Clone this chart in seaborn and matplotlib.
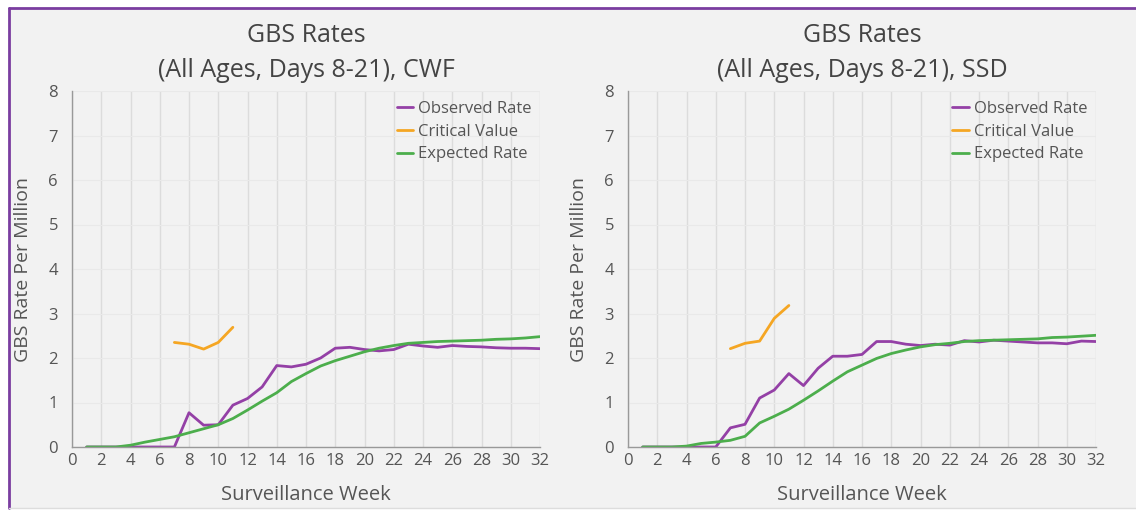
import matplotlib
matplotlib.use("Agg")
import matplotlib.pyplot as plt
import seaborn as sns
import pandas as pd
import numpy as np
from matplotlib.patches import Rectangle
from matplotlib.lines import Line2D

weeks = list(range(1, 33))

cwf_observed = [0, 0, 0, 0, 0, 0, 0, 0.77, 0.49, 0.50, 0.94, 1.09, 1.35, 1.83, 1.80, 1.86,
                2.00, 2.22, 2.24, 2.19, 2.16, 2.19, 2.31, 2.27, 2.24, 2.28, 2.26, 2.25,
                2.23, 2.22, 2.22, 2.21]
cwf_critical_weeks = [7, 8, 9, 10, 11]
cwf_critical = [2.35, 2.31, 2.20, 2.35, 2.69]
cwf_expected = [0, 0, 0, 0.04, 0.11, 0.17, 0.23, 0.32, 0.41, 0.50, 0.64, 0.83, 1.03, 1.22,
                1.47, 1.65, 1.82, 1.94, 2.04, 2.14, 2.22, 2.28, 2.33, 2.35, 2.37, 2.38,
                2.39, 2.40, 2.42, 2.43, 2.45, 2.48]

ssd_observed = [0, 0, 0, 0, 0, 0, 0.43, 0.51, 1.10, 1.28, 1.65, 1.38, 1.77, 2.04, 2.04, 2.08,
                2.37, 2.37, 2.31, 2.28, 2.31, 2.29, 2.39, 2.36, 2.40, 2.38, 2.36, 2.34,
                2.34, 2.32, 2.38, 2.37]
ssd_critical_weeks = [7, 8, 9, 10, 11]
ssd_critical = [2.21, 2.33, 2.38, 2.89, 3.18]
ssd_expected = [0, 0, 0, 0.02, 0.08, 0.11, 0.15, 0.24, 0.54, 0.69, 0.85, 1.05, 1.26, 1.48,
                1.69, 1.84, 1.99, 2.10, 2.18, 2.25, 2.30, 2.33, 2.37, 2.39, 2.40, 2.41,
                2.42, 2.43, 2.46, 2.47, 2.49, 2.51]

titles = ["GBS Rates\n(All Ages, Days 8-21), CWF", "GBS Rates\n(All Ages, Days 8-21), SSD"]
series_names = ["Observed Rate", "Critical Value", "Expected Rate"]
x_ticks = list(range(0, 33, 2))
y_ticks = list(range(0, 9))

def make_df(obs, crit_w, crit, exp):
    rows = []
    for w, v in zip(weeks, obs):
        rows.append(("Observed Rate", w, v))
    for w, v in zip(crit_w, crit):
        rows.append(("Critical Value", w, v))
    for w, v in zip(weeks, exp):
        rows.append(("Expected Rate", w, v))
    return pd.DataFrame(rows, columns=["series", "week", "rate"])

dfs = [make_df(cwf_observed, cwf_critical_weeks, cwf_critical, cwf_expected),
       make_df(ssd_observed, ssd_critical_weeks, ssd_critical, ssd_expected)]

sns.set_theme(style="white")
plt.rcParams['font.family'] = ['Open Sans', 'DejaVu Sans']

bg = "#f2f2f2"
txt = "#555555"
palette = {"Observed Rate": "#9440a6", "Critical Value": "#f5a623", "Expected Rate": "#4cae4c"}

fig = plt.figure(figsize=(11.36, 5.12), dpi=100, facecolor="white")
fig.patches.append(Rectangle((0.008, 0.008), 1.1, 0.976, transform=fig.transFigure,
                             facecolor=bg, edgecolor="none", zorder=-10))
fig.lines.append(Line2D([0.008, 1.0], [0.984, 0.984], transform=fig.transFigure,
                        color="#7a3da0", linewidth=2, zorder=-5))
fig.lines.append(Line2D([0.008, 0.008], [0.008, 0.984], transform=fig.transFigure,
                        color="#7a3da0", linewidth=2, zorder=-5))
fig.lines.append(Line2D([0.008, 1.0], [0.008, 0.008], transform=fig.transFigure,
                        color="#dddddd", linewidth=1, zorder=-5))

lefts = [72 / 1136, 628 / 1136]
for i, df in enumerate(dfs):
    ax = fig.add_axes([lefts[i], 1 - 447 / 512, 468 / 1136, 356 / 512])
    ax.set_facecolor(bg)
    sns.lineplot(data=df, x="week", y="rate", hue="series", hue_order=series_names,
                 palette=palette, linewidth=2.0, ax=ax, sort=False)
    ax.set_xlim(0, 32)
    ax.set_ylim(0, 8)
    ax.set_xticks(x_ticks)
    ax.set_yticks(y_ticks)
    ax.grid(axis="x", color="#dcdcdc", linewidth=1)
    ax.grid(axis="y", color="#e9e9e9", linewidth=0.8)
    ax.set_axisbelow(True)
    for s in ["top", "right"]:
        ax.spines[s].set_visible(False)
    for s in ["left", "bottom"]:
        ax.spines[s].set_color("#999999")
        ax.spines[s].set_linewidth(1)
    ax.tick_params(axis="both", length=0, labelsize=12, labelcolor=txt)
    ax.tick_params(axis="x", pad=4)
    ax.tick_params(axis="y", pad=10)
    ax.set_xlabel("Surveillance Week", fontsize=14.5, color=txt, labelpad=12)
    ax.set_ylabel("GBS Rate Per Million", fontsize=14, color=txt, labelpad=12)
    ax.set_title(titles[i], fontsize=18, color="#444444", pad=10, linespacing=1.55)
    leg = ax.legend(loc="upper right", frameon=False, fontsize=12, handlelength=1.0,
                    handletextpad=0.3, labelspacing=0.4, borderaxespad=0.1,
                    bbox_to_anchor=(1.0, 0.995))
    for t in leg.get_texts():
        t.set_color(txt)

fig.savefig("out.png", dpi=100, facecolor="white")
